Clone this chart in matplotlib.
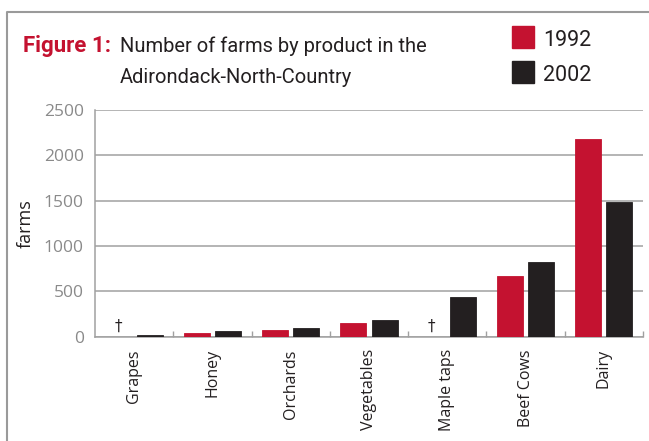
"""
Number of farms by product in the Adirondack-North-Country, 1992 vs 2002
"""

import numpy as np
import matplotlib.pyplot as plt
from matplotlib.patches import Rectangle
from matplotlib.lines import Line2D

categories = ["Grapes", "Honey", "Orchards", "Vegetables", "Maple taps", "Beef Cows", "Dairy"]
farms_1992 = [0, 44, 74, 154, 0, 673, 2180]
farms_2002 = [15, 66, 96, 184, 438, 824, 1489]
years = ["1992", "2002"]
withheld_1992 = ["Grapes", "Maple taps"]   # marked with a dagger

RED = "#c41230"
BLACK = "#231f20"
GRID = "#a0a0a0"
NARROW = ["Roboto", "DejaVu Sans"]


def main():
    fig = plt.figure(figsize=(6.49, 4.41), dpi=100)
    ax = fig.add_axes([0.1464, 0.2365, 0.8444, 0.5141])

    x = np.arange(len(categories))
    w = 0.333
    off = 0.199
    ax.bar(x - off, farms_1992, w, color=RED, edgecolor=RED, linewidth=0.6, zorder=3)
    ax.bar(x + off, farms_2002, w, color=BLACK, edgecolor=BLACK, linewidth=0.6, zorder=3)

    for name in withheld_1992:
        i = categories.index(name)
        ax.text(x[i] - off, 30, "\u2020", ha="center", va="bottom",
                fontsize=11, color=BLACK, family="DejaVu Sans")

    ax.set_xlim(-0.5, len(categories) - 0.5)
    ax.set_ylim(0, 2500)
    ax.set_yticks(np.arange(0, 2501, 500))
    ax.yaxis.grid(True, color=GRID, linewidth=1.1, zorder=0)
    ax.tick_params(axis="y", length=0, pad=8, labelsize=12.5, labelcolor="#8a8a8a")
    for lab in ax.get_yticklabels():
        lab.set_family("Open Sans")

    # labels centred under groups, ticks at group boundaries
    ax.set_xticks(x)
    ax.set_xticklabels(categories, rotation=90, fontsize=11.5, color=BLACK, family="Open Sans")
    ax.tick_params(axis="x", which="major", length=0, pad=9)
    ax.set_xticks(np.arange(0.5, len(categories), 1.0), minor=True)
    ax.tick_params(axis="x", which="minor", direction="in", length=4, color=GRID, width=1)

    for s in ["top", "right"]:
        ax.spines[s].set_visible(False)
    for s in ["left", "bottom"]:
        ax.spines[s].set_color(GRID)
        ax.spines[s].set_linewidth(1.1)

    ax.set_ylabel("farms", fontsize=13, family="Open Sans", color=BLACK)
    ax.yaxis.set_label_coords(-0.11, 0.5)

    # title
    fig.text(23 / 649, 1 - 52 / 441, "Figure 1:", color=RED, fontsize=16,
             fontweight="bold", family=NARROW, va="baseline")
    fig.text(120 / 649, 1 - 52 / 441, "Number of farms by product in the", color=BLACK,
             fontsize=14.5, family=NARROW, va="baseline")
    fig.text(120 / 649, 1 - 83 / 441, "Adirondack-North-Country", color=BLACK,
             fontsize=14.5, family=NARROW, va="baseline")

    # legend drawn by hand in figure coords
    for k, (yr, col) in enumerate(zip(years, [RED, BLACK])):
        top = 26 + 35 * k
        fig.patches.append(Rectangle((512 / 649, 1 - (top + 22) / 441), 22 / 649, 22 / 441,
                                     transform=fig.transFigure, color=col))
        fig.text(543 / 649, 1 - (top + 20) / 441, yr, color=BLACK, fontsize=15.5,
                 family=NARROW, va="baseline")

    # frame lines (top and left)
    fig.lines.append(Line2D([7 / 649, 7 / 649, 1], [0, 1 - 12 / 441, 1 - 12 / 441],
                            transform=fig.transFigure, color="#9a9a9a", linewidth=1.5))

    fig.savefig("out.png", dpi=100)


if __name__ == "__main__":
    main()
